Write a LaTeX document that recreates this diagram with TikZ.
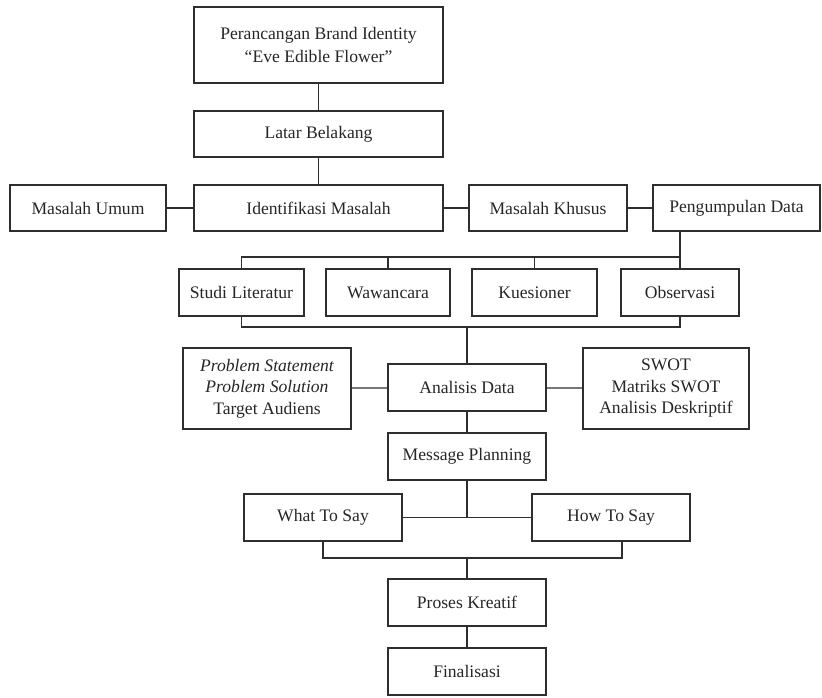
\documentclass[tikz,border=0pt]{standalone}
\usepackage{fontspec}
\setmainfont{Liberation Serif}
\begin{document}
\begin{tikzpicture}[x=1pt,y=-1pt,
  bx/.style={draw=black!82, line width=1.2pt, inner sep=0pt, align=center, text=black!85,
    font=\fontsize{17.6}{21.5}\selectfont},
  ln/.style={draw=black!82, line width=1.2pt}]
\useasboundingbox (0,0) rectangle (822,697);
% nodes
\node[bx, minimum width=249, minimum height=76] (top) at (318.5,45) {Perancangan Brand Identity\\[1pt]“Eve Edible Flower”};
\node[bx, minimum width=249, minimum height=46] (latar) at (318.5,134) {Latar Belakang};
\node[bx, minimum width=249, minimum height=46] (ident) at (318.5,208) {Identifikasi Masalah};
\node[bx, minimum width=156, minimum height=46] (umum) at (88,208) {Masalah Umum};
\node[bx, minimum width=158, minimum height=46] (khusus) at (548,208) {Masalah Khusus};
\node[bx, minimum width=167, minimum height=46] (peng) at (736.5,208) {Pengumpulan Data};
\node[bx, minimum width=125, minimum height=47] (studi) at (241.5,292.5) {Studi Literatur};
\node[bx, minimum width=124, minimum height=47] (wawan) at (388,292.5) {Wawancara};
\node[bx, minimum width=125, minimum height=47] (kues) at (534.5,292.5) {Kuesioner};
\node[bx, minimum width=118, minimum height=47] (obs) at (680,292.5) {Observasi};
\node[bx, minimum width=168, minimum height=81] (prob) at (267,388.5) {\itshape Problem Statement\\\itshape Problem Solution\\Target Audiens};
\node[bx, minimum width=158, minimum height=47] (anal) at (467,387.5) {Analisis Data};
\node[bx, minimum width=166, minimum height=81] (swot) at (666,388.5) {SWOT\\Matriks SWOT\\Analisis Deskriptif};
\node[bx, minimum width=158, minimum height=47] (mp) at (467,456.5) {Message Planning};
\node[bx, minimum width=158, minimum height=47] (what) at (323,517.5) {What To Say};
\node[bx, minimum width=158, minimum height=47] (how) at (611,517.5) {How To Say};
\node[bx, minimum width=158, minimum height=47] (pk) at (467,602.5) {Proses Kreatif};
\node[bx, minimum width=158, minimum height=47] (fin) at (467,671.5) {Finalisasi};
% helper coordinates
\coordinate (pgdrop) at (680,231);
\coordinate (b1) at (680,257);
\coordinate (b2) at (467,327);
\coordinate (howdrop) at (622,541);
\coordinate (b3) at (467,558);
% connectors
\draw[ln] (top) -- (latar);
\draw[ln] (latar) -- (ident);
\draw[ln] (umum) -- (ident);
\draw[ln] (ident) -- (khusus);
\draw[ln] (khusus) -- (peng);
\draw[ln] (pgdrop) -- (obs.north);
\draw[ln] (studi.north) |- (b1);
\draw[ln] (wawan.north) -- (wawan.north |- b1);
\draw[ln] (kues.north) -- (kues.north |- b1);
\draw[ln] (studi.south) |- (obs.south |- b2) -- (obs.south);
\draw[ln] (b2) -- (anal.north);
\draw[ln] (prob) -- (anal);
\draw[ln] (anal) -- (swot);
\draw[ln] (anal) -- (mp);
\draw[ln] (what) -- (how);
\draw[ln] (mp.south) -- (mp.south |- what.east);
\draw[ln] (what.south) |- (b3) -| (howdrop);
\draw[ln] (b3) -- (pk.north);
\draw[ln] (pk) -- (fin);
\end{tikzpicture}
\end{document}
